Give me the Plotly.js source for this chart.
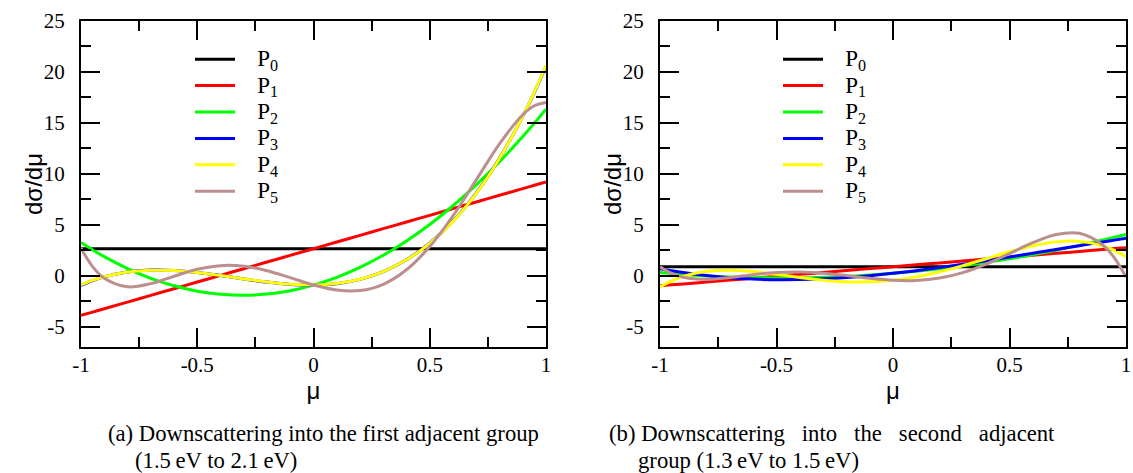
<!DOCTYPE html>
<html>
<head>
<meta charset="utf-8">
<script src="https://cdn.plot.ly/plotly-3.0.1.min.js"></script>
<style>
html,body{margin:0;padding:0;background:#ffffff;}
#chart{width:1133px;height:473px;}
</style>
</head>
<body>
<div id="chart"></div>
<script>
// ---- data ----
const mu = [-1, -0.95, -0.9, -0.8, -0.7, -0.6, -0.5, -0.4, -0.3, -0.2, -0.1, 0,
            0.1, 0.2, 0.3, 0.4, 0.5, 0.6, 0.7, 0.8, 0.9, 0.95, 1];

const seriesNames = ['P<sub>0</sub>', 'P<sub>1</sub>', 'P<sub>2</sub>', 'P<sub>3</sub>', 'P<sub>4</sub>', 'P<sub>5</sub>'];

// (a) first adjacent group
const a_P0 = [2.65,2.65,2.65,2.65,2.65,2.65,2.65,2.65,2.65,2.65,2.65,2.65,2.65,2.65,2.65,2.65,2.65,2.65,2.65,2.65,2.65,2.65,2.65];
const a_P1 = [-3.9,-3.573,-3.245,-2.59,-1.935,-1.28,-0.625,0.03,0.685,1.34,1.995,2.65,3.305,3.96,4.615,5.27,5.925,6.58,7.235,7.89,8.545,8.873,9.2];
const a_P2 = [3.25,2.532,1.867,0.699,-0.255,-0.994,-1.519,-1.829,-1.925,-1.806,-1.473,-0.925,-0.163,0.814,2.005,3.411,5.031,6.866,8.915,11.179,13.657,14.977,16.35];
const a_P3 = [-0.95,-0.486,-0.117,0.363,0.554,0.518,0.319,0.019,-0.318,-0.63,-0.853,-0.925,-0.782,-0.362,0.399,1.563,3.194,5.354,8.107,11.515,15.642,17.994,20.55];
const a_P4 = [-0.9,-0.458,-0.107,0.351,0.533,0.498,0.304,0.013,-0.315,-0.618,-0.836,-0.906,-0.766,-0.35,0.402,1.557,3.179,5.334,8.086,11.503,15.652,18.022,20.6];
const a_P5 = [2.7,0.884,-0.255,-1.087,-0.782,-0.051,0.628,0.987,0.929,0.489,-0.193,-0.906,-1.409,-1.457,-0.841,0.583,2.856,5.883,9.401,12.941,15.8,16.68,17.0];

// (b) second adjacent group
const b_P0 = [0.88,0.88,0.88,0.88,0.88,0.88,0.88,0.88,0.88,0.88,0.88,0.88,0.88,0.88,0.88,0.88,0.88,0.88,0.88,0.88,0.88,0.88,0.88];
const b_P1 = [-0.995,-0.901,-0.808,-0.62,-0.433,-0.245,-0.058,0.13,0.318,0.505,0.693,0.88,1.068,1.255,1.443,1.63,1.818,2.005,2.193,2.38,2.568,2.661,2.755];
const b_P2 = [0.305,0.209,0.122,-0.022,-0.127,-0.193,-0.22,-0.208,-0.157,-0.067,0.062,0.23,0.437,0.683,0.968,1.292,1.655,2.057,2.498,2.978,3.497,3.771,4.055];
const b_P3 = [0.695,0.489,0.306,0.009,-0.202,-0.333,-0.391,-0.38,-0.306,-0.176,0.005,0.23,0.495,0.792,1.117,1.464,1.826,2.197,2.573,2.947,3.313,3.491,3.665];
const b_P4 = [-1.115,-0.514,-0.07,0.431,0.544,0.405,0.132,-0.175,-0.438,-0.596,-0.607,-0.449,-0.117,0.372,0.985,1.668,2.349,2.936,3.319,3.369,2.937,2.488,1.855];
const b_P5 = [0.865,0.224,-0.152,-0.36,-0.179,0.103,0.31,0.361,0.246,0.013,-0.253,-0.449,-0.471,-0.237,0.301,1.132,2.171,3.238,4.042,4.16,3.018,1.75,-0.125];

const xTickVals = [-1, -0.5, 0, 0.5, 1];
const xTickText = ['-1', '-0.5', '0', '0.5', '1'];
const yTickVals = [-5, 0, 5, 10, 15, 20, 25];
const yTickText = ['-5', '0', '5', '10', '15', '20', '25'];

const xTitle = 'μ';
const yTitle = 'dσ/dμ';
const captionA = ['(a) Downscattering into the first adjacent group', '(1.5\u2009eV to 2.1\u2009eV)'];
const captionB = ['(b) Downscattering \u00a0\u00a0into \u00a0\u00a0the \u00a0\u00a0second \u00a0\u00a0adjacent', 'group (1.3\u2009eV to 1.5\u2009eV)'];

// ---- styling ----
const colors = ['#000000', '#ff0000', '#00ff00', '#0000ff', '#ffff00', '#bc8f8f'];
const serif = 'Liberation Serif';
const sans = 'Liberation Sans';

const panelA = [a_P0, a_P1, a_P2, a_P3, a_P4, a_P5];
const panelB = [b_P0, b_P1, b_P2, b_P3, b_P4, b_P5];

function legendLabel(name) {
  return '<span style="font-size:23px">\u00a0\u00a0\u00a0' + name + '</span>';
}

const traces = [];
panelA.forEach((ys, i) => {
  traces.push({
    x: mu, y: ys, type: 'scatter', mode: 'lines', name: legendLabel(seriesNames[i]),
    xaxis: 'x', yaxis: 'y', legend: 'legend',
    line: {color: colors[i], width: 3, shape: 'spline', smoothing: 1}
  });
});
panelB.forEach((ys, i) => {
  traces.push({
    x: mu, y: ys, type: 'scatter', mode: 'lines', name: legendLabel(seriesNames[i]),
    xaxis: 'x2', yaxis: 'y2', legend: 'legend2',
    line: {color: colors[i], width: 3, shape: 'spline', smoothing: 1}
  });
});

function xAxis(domain, anchor) {
  return {
    domain: domain, anchor: anchor, range: [-1, 1],
    tickmode: 'array', tickvals: xTickVals, ticktext: xTickText,
    ticks: 'inside', ticklen: 19, tickwidth: 2, tickcolor: '#000',
    minor: {tickmode: 'linear', tick0: 0, dtick: 0.25, ticks: 'inside', ticklen: 10, tickwidth: 2, tickcolor: '#000', showgrid: false},
    showline: true, linecolor: '#000', linewidth: 2, mirror: 'ticks',
    showgrid: false, zeroline: false,
    tickfont: {family: serif, size: 21, color: '#000'},
    ticklabelstandoff: -2,
    title: {text: xTitle, font: {family: sans, size: 24, color: '#000'}, standoff: 0}
  };
}
function yAxis(domain, anchor) {
  return {
    domain: domain, anchor: anchor, range: [-7, 25],
    tickmode: 'array', tickvals: yTickVals, ticktext: yTickText,
    ticks: 'inside', ticklen: 19, tickwidth: 2, tickcolor: '#000',
    minor: {tickmode: 'linear', tick0: 0, dtick: 2.5, ticks: 'inside', ticklen: 10, tickwidth: 2, tickcolor: '#000', showgrid: false},
    showline: true, linecolor: '#000', linewidth: 2, mirror: 'ticks',
    showgrid: false, zeroline: false,
    tickfont: {family: serif, size: 21, color: '#000'},
    ticklabelstandoff: 10
  };
}

const W = 1133, H = 473;
const mL = 81, mR = 7, mT = 21, mB = 126;
const plotW = W - mL - mR;
const plotH = H - mT - mB;
const domA = [0, (546 - mL) / plotW];
const domB = [(660 - mL) / plotW, 1];

function legendBox(leftPx, topPx) {
  return {
    x: (leftPx - mL) / plotW, xanchor: 'left', xref: 'paper',
    y: 1 - (topPx - mT) / plotH, yanchor: 'top', yref: 'paper',
    bgcolor: 'rgba(0,0,0,0)', borderwidth: 0,
    font: {family: serif, size: 18, color: '#000'},
    itemwidth: 40, tracegroupgap: 0, traceorder: 'normal'
  };
}

function textAt(text, px, py, opts) {
  return Object.assign({
    text: text,
    x: (px - mL) / plotW, y: 1 - (py - mT) / plotH,
    xref: 'paper', yref: 'paper', xanchor: 'left', yanchor: 'middle',
    showarrow: false, font: {family: serif, size: 22.7, color: '#000'}
  }, opts || {});
}

const yTitleFont = {family: sans, size: 24, color: '#000'};

const layout = {
  width: W, height: H,
  margin: {l: mL, r: mR, t: mT, b: mB, pad: 0},
  font: {family: serif, size: 21, color: '#000'},
  paper_bgcolor: '#ffffff', plot_bgcolor: '#ffffff',
  showlegend: true,
  xaxis: xAxis(domA, 'y'),
  yaxis: yAxis([0, 1], 'x'),
  xaxis2: xAxis(domB, 'y2'),
  yaxis2: yAxis([0, 1], 'x2'),
  legend: legendBox(190, 41),
  legend2: legendBox(778, 41),
  annotations: [
    textAt(yTitle, 33, 184, {xanchor: 'center', textangle: -90, font: yTitleFont}),
    textAt(yTitle, 612, 184, {xanchor: 'center', textangle: -90, font: yTitleFont}),
    textAt(captionA[0], 106, 433),
    textAt(captionA[1], 133, 460),
    textAt(captionB[0], 607, 433),
    textAt(captionB[1], 636, 460)
  ]
};

Plotly.newPlot('chart', traces, layout, {displayModeBar: false, staticPlot: true});
</script>
</body>
</html>
